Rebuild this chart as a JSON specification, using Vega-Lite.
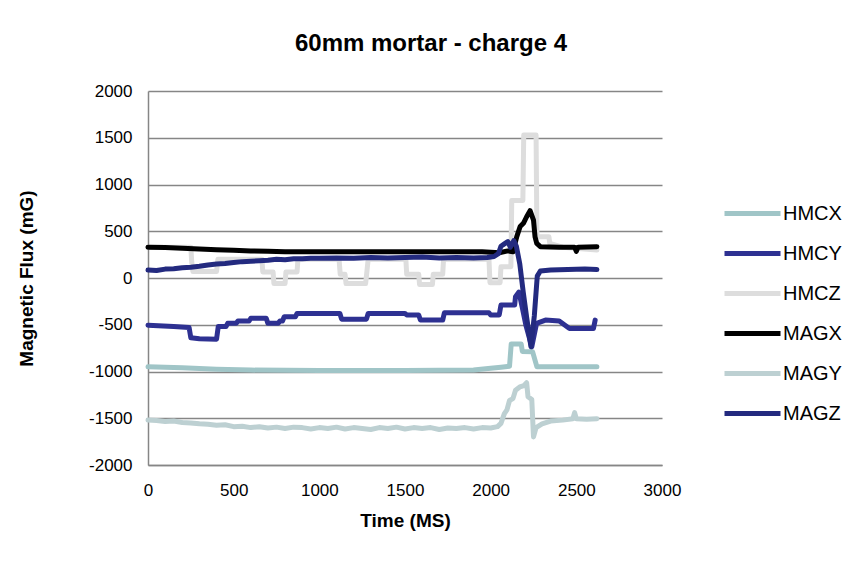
{
  "$schema": "https://vega.github.io/schema/vega-lite/v6.json",
  "width": 514,
  "height": 374,
  "autosize": {"type": "none"},
  "padding": {"left": 148, "top": 91, "right": 200, "bottom": 98},
  "background": "white",
  "config": {
    "font": "Liberation Sans",
    "view": {"stroke": null},
    "axis": {
      "domainColor": "#868686",
      "domainWidth": 1.5,
      "gridColor": "#868686",
      "gridWidth": 1.5,
      "ticks": false,
      "labelFont": "Liberation Sans",
      "labelFontSize": 17,
      "labelColor": "black",
      "titleFont": "Liberation Sans",
      "titleFontSize": 19,
      "titleFontWeight": "bold",
      "titleColor": "black"
    }
  },
  "title": {
    "text": "60mm mortar - charge 4",
    "font": "Liberation Sans",
    "fontSize": 24,
    "fontWeight": "bold",
    "color": "black",
    "anchor": "middle",
    "dx": 26,
    "offset": 26
  },
  "data": {
    "values": [
      {"s": "HMCX", "t": 0, "v": -950}, {"s": "HMCX", "t": 200, "v": -960}, {"s": "HMCX", "t": 400, "v": -975}, {"s": "HMCX", "t": 600, "v": -985}, {"s": "HMCX", "t": 1000, "v": -990}, {"s": "HMCX", "t": 1500, "v": -990}, {"s": "HMCX", "t": 1900, "v": -985}, {"s": "HMCX", "t": 2000, "v": -965}, {"s": "HMCX", "t": 2060, "v": -955}, {"s": "HMCX", "t": 2110, "v": -945}, {"s": "HMCX", "t": 2120, "v": -705}, {"s": "HMCX", "t": 2178, "v": -705}, {"s": "HMCX", "t": 2185, "v": -785}, {"s": "HMCX", "t": 2245, "v": -790}, {"s": "HMCX", "t": 2270, "v": -950}, {"s": "HMCX", "t": 2620, "v": -950},

      {"s": "HMCY", "t": 0, "v": -505}, {"s": "HMCY", "t": 150, "v": -520}, {"s": "HMCY", "t": 240, "v": -530}, {"s": "HMCY", "t": 250, "v": -640}, {"s": "HMCY", "t": 300, "v": -650}, {"s": "HMCY", "t": 400, "v": -655}, {"s": "HMCY", "t": 410, "v": -520}, {"s": "HMCY", "t": 455, "v": -520}, {"s": "HMCY", "t": 465, "v": -485}, {"s": "HMCY", "t": 515, "v": -485}, {"s": "HMCY", "t": 525, "v": -460}, {"s": "HMCY", "t": 590, "v": -460}, {"s": "HMCY", "t": 600, "v": -430}, {"s": "HMCY", "t": 690, "v": -430}, {"s": "HMCY", "t": 700, "v": -485}, {"s": "HMCY", "t": 760, "v": -485}, {"s": "HMCY", "t": 770, "v": -460}, {"s": "HMCY", "t": 785, "v": -460}, {"s": "HMCY", "t": 795, "v": -415}, {"s": "HMCY", "t": 860, "v": -415}, {"s": "HMCY", "t": 870, "v": -380}, {"s": "HMCY", "t": 1120, "v": -380}, {"s": "HMCY", "t": 1130, "v": -440}, {"s": "HMCY", "t": 1275, "v": -440}, {"s": "HMCY", "t": 1285, "v": -380}, {"s": "HMCY", "t": 1500, "v": -380}, {"s": "HMCY", "t": 1510, "v": -395}, {"s": "HMCY", "t": 1580, "v": -395}, {"s": "HMCY", "t": 1590, "v": -450}, {"s": "HMCY", "t": 1720, "v": -450}, {"s": "HMCY", "t": 1730, "v": -372}, {"s": "HMCY", "t": 1990, "v": -372}, {"s": "HMCY", "t": 2000, "v": -395}, {"s": "HMCY", "t": 2050, "v": -395}, {"s": "HMCY", "t": 2060, "v": -290}, {"s": "HMCY", "t": 2140, "v": -290}, {"s": "HMCY", "t": 2145, "v": -200}, {"s": "HMCY", "t": 2165, "v": -150}, {"s": "HMCY", "t": 2185, "v": -320}, {"s": "HMCY", "t": 2205, "v": -500}, {"s": "HMCY", "t": 2240, "v": -735}, {"s": "HMCY", "t": 2268, "v": -485}, {"s": "HMCY", "t": 2320, "v": -450}, {"s": "HMCY", "t": 2400, "v": -460}, {"s": "HMCY", "t": 2460, "v": -540}, {"s": "HMCY", "t": 2600, "v": -540}, {"s": "HMCY", "t": 2610, "v": -450},

      {"s": "HMCZ", "t": 0, "v": 330}, {"s": "HMCZ", "t": 250, "v": 330}, {"s": "HMCZ", "t": 255, "v": 175}, {"s": "HMCZ", "t": 262, "v": 70}, {"s": "HMCZ", "t": 400, "v": 70}, {"s": "HMCZ", "t": 408, "v": 200}, {"s": "HMCZ", "t": 665, "v": 200}, {"s": "HMCZ", "t": 670, "v": 65}, {"s": "HMCZ", "t": 730, "v": 65}, {"s": "HMCZ", "t": 735, "v": -60}, {"s": "HMCZ", "t": 800, "v": -60}, {"s": "HMCZ", "t": 805, "v": 65}, {"s": "HMCZ", "t": 870, "v": 65}, {"s": "HMCZ", "t": 875, "v": 200}, {"s": "HMCZ", "t": 1115, "v": 200}, {"s": "HMCZ", "t": 1122, "v": 40}, {"s": "HMCZ", "t": 1150, "v": 40}, {"s": "HMCZ", "t": 1156, "v": -60}, {"s": "HMCZ", "t": 1270, "v": -60}, {"s": "HMCZ", "t": 1276, "v": 40}, {"s": "HMCZ", "t": 1285, "v": 200}, {"s": "HMCZ", "t": 1505, "v": 200}, {"s": "HMCZ", "t": 1510, "v": 40}, {"s": "HMCZ", "t": 1580, "v": 40}, {"s": "HMCZ", "t": 1585, "v": -70}, {"s": "HMCZ", "t": 1660, "v": -70}, {"s": "HMCZ", "t": 1665, "v": 40}, {"s": "HMCZ", "t": 1720, "v": 40}, {"s": "HMCZ", "t": 1725, "v": 200}, {"s": "HMCZ", "t": 1990, "v": 200}, {"s": "HMCZ", "t": 1996, "v": -50}, {"s": "HMCZ", "t": 2055, "v": -50}, {"s": "HMCZ", "t": 2060, "v": 120}, {"s": "HMCZ", "t": 2118, "v": 120}, {"s": "HMCZ", "t": 2123, "v": 830}, {"s": "HMCZ", "t": 2188, "v": 830}, {"s": "HMCZ", "t": 2193, "v": 1530}, {"s": "HMCZ", "t": 2265, "v": 1530}, {"s": "HMCZ", "t": 2270, "v": 440}, {"s": "HMCZ", "t": 2340, "v": 440}, {"s": "HMCZ", "t": 2345, "v": 370}, {"s": "HMCZ", "t": 2420, "v": 330}, {"s": "HMCZ", "t": 2620, "v": 300},

      {"s": "MAGX", "t": 0, "v": 330}, {"s": "MAGX", "t": 100, "v": 325}, {"s": "MAGX", "t": 200, "v": 318}, {"s": "MAGX", "t": 300, "v": 310}, {"s": "MAGX", "t": 400, "v": 302}, {"s": "MAGX", "t": 500, "v": 296}, {"s": "MAGX", "t": 600, "v": 290}, {"s": "MAGX", "t": 700, "v": 285}, {"s": "MAGX", "t": 800, "v": 282}, {"s": "MAGX", "t": 1000, "v": 280}, {"s": "MAGX", "t": 1200, "v": 282}, {"s": "MAGX", "t": 1400, "v": 280}, {"s": "MAGX", "t": 1600, "v": 282}, {"s": "MAGX", "t": 1800, "v": 280}, {"s": "MAGX", "t": 1950, "v": 280}, {"s": "MAGX", "t": 2050, "v": 270}, {"s": "MAGX", "t": 2100, "v": 290}, {"s": "MAGX", "t": 2130, "v": 280}, {"s": "MAGX", "t": 2152, "v": 440}, {"s": "MAGX", "t": 2172, "v": 550}, {"s": "MAGX", "t": 2191, "v": 585}, {"s": "MAGX", "t": 2210, "v": 655}, {"s": "MAGX", "t": 2230, "v": 720}, {"s": "MAGX", "t": 2250, "v": 620}, {"s": "MAGX", "t": 2259, "v": 440}, {"s": "MAGX", "t": 2269, "v": 370}, {"s": "MAGX", "t": 2290, "v": 335}, {"s": "MAGX", "t": 2400, "v": 330}, {"s": "MAGX", "t": 2490, "v": 330}, {"s": "MAGX", "t": 2500, "v": 285}, {"s": "MAGX", "t": 2510, "v": 330}, {"s": "MAGX", "t": 2620, "v": 335},

      {"s": "MAGY", "t": 0, "v": -1520}, {"s": "MAGY", "t": 50, "v": -1525}, {"s": "MAGY", "t": 100, "v": -1535}, {"s": "MAGY", "t": 150, "v": -1530}, {"s": "MAGY", "t": 200, "v": -1545}, {"s": "MAGY", "t": 250, "v": -1550}, {"s": "MAGY", "t": 300, "v": -1560}, {"s": "MAGY", "t": 350, "v": -1565}, {"s": "MAGY", "t": 400, "v": -1575}, {"s": "MAGY", "t": 450, "v": -1570}, {"s": "MAGY", "t": 500, "v": -1590}, {"s": "MAGY", "t": 550, "v": -1585}, {"s": "MAGY", "t": 600, "v": -1600}, {"s": "MAGY", "t": 650, "v": -1590}, {"s": "MAGY", "t": 700, "v": -1605}, {"s": "MAGY", "t": 750, "v": -1595}, {"s": "MAGY", "t": 800, "v": -1610}, {"s": "MAGY", "t": 850, "v": -1595}, {"s": "MAGY", "t": 900, "v": -1600}, {"s": "MAGY", "t": 950, "v": -1615}, {"s": "MAGY", "t": 1000, "v": -1600}, {"s": "MAGY", "t": 1050, "v": -1610}, {"s": "MAGY", "t": 1100, "v": -1595}, {"s": "MAGY", "t": 1150, "v": -1615}, {"s": "MAGY", "t": 1200, "v": -1600}, {"s": "MAGY", "t": 1250, "v": -1610}, {"s": "MAGY", "t": 1300, "v": -1620}, {"s": "MAGY", "t": 1350, "v": -1600}, {"s": "MAGY", "t": 1400, "v": -1610}, {"s": "MAGY", "t": 1450, "v": -1595}, {"s": "MAGY", "t": 1500, "v": -1615}, {"s": "MAGY", "t": 1550, "v": -1600}, {"s": "MAGY", "t": 1600, "v": -1610}, {"s": "MAGY", "t": 1650, "v": -1600}, {"s": "MAGY", "t": 1700, "v": -1620}, {"s": "MAGY", "t": 1750, "v": -1605}, {"s": "MAGY", "t": 1800, "v": -1610}, {"s": "MAGY", "t": 1850, "v": -1600}, {"s": "MAGY", "t": 1900, "v": -1615}, {"s": "MAGY", "t": 1950, "v": -1600}, {"s": "MAGY", "t": 2000, "v": -1605}, {"s": "MAGY", "t": 2040, "v": -1590}, {"s": "MAGY", "t": 2060, "v": -1555}, {"s": "MAGY", "t": 2080, "v": -1450}, {"s": "MAGY", "t": 2095, "v": -1410}, {"s": "MAGY", "t": 2110, "v": -1310}, {"s": "MAGY", "t": 2130, "v": -1290}, {"s": "MAGY", "t": 2145, "v": -1200}, {"s": "MAGY", "t": 2170, "v": -1165}, {"s": "MAGY", "t": 2195, "v": -1150}, {"s": "MAGY", "t": 2210, "v": -1120}, {"s": "MAGY", "t": 2218, "v": -1270}, {"s": "MAGY", "t": 2240, "v": -1300}, {"s": "MAGY", "t": 2250, "v": -1700}, {"s": "MAGY", "t": 2265, "v": -1600}, {"s": "MAGY", "t": 2300, "v": -1560}, {"s": "MAGY", "t": 2350, "v": -1530}, {"s": "MAGY", "t": 2420, "v": -1520}, {"s": "MAGY", "t": 2480, "v": -1505}, {"s": "MAGY", "t": 2490, "v": -1440}, {"s": "MAGY", "t": 2500, "v": -1505}, {"s": "MAGY", "t": 2560, "v": -1510}, {"s": "MAGY", "t": 2620, "v": -1505},

      {"s": "MAGZ", "t": 0, "v": 85}, {"s": "MAGZ", "t": 50, "v": 80}, {"s": "MAGZ", "t": 100, "v": 95}, {"s": "MAGZ", "t": 150, "v": 100}, {"s": "MAGZ", "t": 200, "v": 110}, {"s": "MAGZ", "t": 250, "v": 115}, {"s": "MAGZ", "t": 300, "v": 125}, {"s": "MAGZ", "t": 350, "v": 140}, {"s": "MAGZ", "t": 400, "v": 150}, {"s": "MAGZ", "t": 450, "v": 155}, {"s": "MAGZ", "t": 500, "v": 165}, {"s": "MAGZ", "t": 550, "v": 175}, {"s": "MAGZ", "t": 600, "v": 180}, {"s": "MAGZ", "t": 650, "v": 185}, {"s": "MAGZ", "t": 700, "v": 190}, {"s": "MAGZ", "t": 750, "v": 200}, {"s": "MAGZ", "t": 800, "v": 195}, {"s": "MAGZ", "t": 850, "v": 205}, {"s": "MAGZ", "t": 900, "v": 205}, {"s": "MAGZ", "t": 950, "v": 210}, {"s": "MAGZ", "t": 1000, "v": 210}, {"s": "MAGZ", "t": 1100, "v": 215}, {"s": "MAGZ", "t": 1200, "v": 210}, {"s": "MAGZ", "t": 1300, "v": 220}, {"s": "MAGZ", "t": 1400, "v": 215}, {"s": "MAGZ", "t": 1500, "v": 220}, {"s": "MAGZ", "t": 1600, "v": 225}, {"s": "MAGZ", "t": 1700, "v": 215}, {"s": "MAGZ", "t": 1800, "v": 220}, {"s": "MAGZ", "t": 1900, "v": 215}, {"s": "MAGZ", "t": 1980, "v": 220}, {"s": "MAGZ", "t": 2020, "v": 230}, {"s": "MAGZ", "t": 2045, "v": 260}, {"s": "MAGZ", "t": 2060, "v": 340}, {"s": "MAGZ", "t": 2080, "v": 365}, {"s": "MAGZ", "t": 2100, "v": 390}, {"s": "MAGZ", "t": 2115, "v": 330}, {"s": "MAGZ", "t": 2135, "v": 400}, {"s": "MAGZ", "t": 2150, "v": 340}, {"s": "MAGZ", "t": 2170, "v": 150}, {"s": "MAGZ", "t": 2190, "v": -150}, {"s": "MAGZ", "t": 2210, "v": -420}, {"s": "MAGZ", "t": 2235, "v": -735}, {"s": "MAGZ", "t": 2255, "v": -400}, {"s": "MAGZ", "t": 2272, "v": 20}, {"s": "MAGZ", "t": 2290, "v": 75}, {"s": "MAGZ", "t": 2350, "v": 85}, {"s": "MAGZ", "t": 2450, "v": 90}, {"s": "MAGZ", "t": 2550, "v": 95}, {"s": "MAGZ", "t": 2620, "v": 90}
    ]
  },
  "mark": {"type": "line", "strokeWidth": 5, "strokeCap": "round", "strokeJoin": "round"},
  "encoding": {
    "x": {
      "field": "t",
      "type": "quantitative",
      "scale": {"domain": [0, 3000], "nice": false, "zero": false},
      "axis": {"values": [0, 500, 1000, 1500, 2000, 2500, 3000], "labelExpr": "datum.value + ''", "title": "Time (MS)", "grid": false, "labelPadding": 17, "titlePadding": 13, "labelFlush": false}
    },
    "y": {
      "field": "v",
      "type": "quantitative",
      "scale": {"domain": [-2000, 2000], "nice": false},
      "axis": {"values": [-2000, -1500, -1000, -500, 0, 500, 1000, 1500, 2000], "labelExpr": "datum.value + ''", "title": "Magnetic Flux (mG)", "labelPadding": 16, "titlePadding": 52, "labelFlush": false}
    },
    "color": {
      "field": "s",
      "type": "nominal",
      "scale": {
        "domain": ["HMCX", "HMCY", "HMCZ", "MAGX", "MAGY", "MAGZ"],
        "range": ["#A0C5C7", "#2E3192", "#DDDDDD", "#000000", "#BDD0D2", "#232A7F"]
      },
      "legend": {
        "title": null,
        "orient": "none",
        "legendX": 588,
        "legendY": 106,
        "symbolType": "M-2,0H2",
        "symbolSize": 784,
        "symbolStrokeWidth": 5,
        "labelOffset": 14,
        "labelFont": "Liberation Sans",
        "labelFontSize": 20,
        "labelColor": "black",
        "rowPadding": 13
      }
    }
  }
}
